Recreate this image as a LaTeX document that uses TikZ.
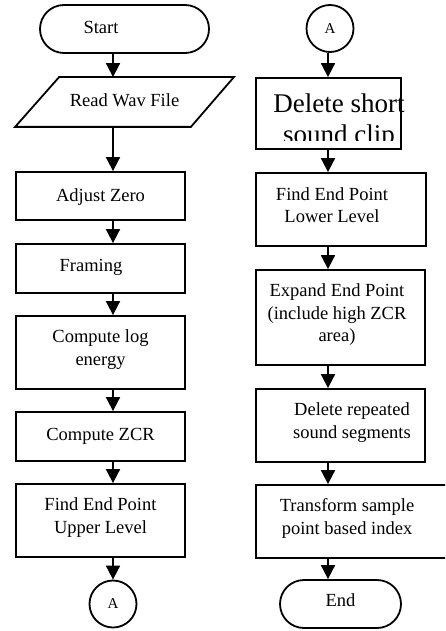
\documentclass[tikz,border=0pt]{standalone}
\usepackage{fontspec}
\setmainfont{Liberation Serif}
\usetikzlibrary{arrows.meta,shapes.misc}
\newcommand\fsnorm{\fontsize{18.5}{22.5}\selectfont}
\newcommand\fssmall{\fontsize{15}{18}\selectfont}
\newcommand\fsbig{\fontsize{27}{31}\selectfont}
\begin{document}
\begin{tikzpicture}[x=1pt,y=-1pt,
  shp/.style={draw, line width=1.8pt, inner sep=0pt},
  box/.style={shp, rectangle},
  term/.style={shp, rounded rectangle, minimum height=48pt},
  conn/.style={shp, circle, minimum size=47pt, font=\fssmall},
  txt/.style={inner sep=0pt, align=center, font=\fsnorm},
  arr/.style={line width=1.8pt, -{Triangle[width=14pt,length=14pt]}},
]
\useasboundingbox (0,0) rectangle (445,631);
\clip (0,0) rectangle (445,631);
\coordinate (axL) at (113,0);
\coordinate (axR) at (328,0);

% ---------- left column ----------
\node[term, minimum width=169pt,
  label={[txt, xshift=-23.5pt, yshift=1.8pt]center:Start}] (start) at (124.5,29) {};
\node[shp, draw=none, minimum width=217pt, minimum height=48pt,
  label={[txt, yshift=2pt]center:Read Wav File}] (read) at (124.5,102) {};
\draw[line width=1.8pt, line join=miter]
  ([xshift=44pt]read.north west) -- (read.north east)
  -- ([xshift=-43pt]read.south east) -- (read.south west) -- cycle;
\node[box, minimum width=169pt, minimum height=48pt,
  label={[txt, yshift=-1.4pt]center:Adjust Zero}] (adj) at (100.5,196) {};
\node[box, minimum width=169pt, minimum height=49pt,
  label={[txt, xshift=-9.5pt, yshift=1pt]center:Framing}] (fram) at (100.5,268.5) {};
\node[box, minimum width=169pt, minimum height=73pt,
  label={[txt, yshift=2.8pt]center:{Compute log\\energy}}] (loge) at (100.5,352.5) {};
\node[box, minimum width=169pt, minimum height=49pt,
  label={[txt]center:Compute ZCR}] (zcr) at (100.5,436.5) {};
\node[box, minimum width=169pt, minimum height=73pt,
  label={[txt, yshift=2.8pt]center:{Find End Point\\Upper Level}}] (upper) at (100.5,520.5) {};
\node[conn] (a1) at (113,604) {A};

\draw[arr] (start.south -| axL) -- (read.north -| axL);
\draw[arr] (read.south -| axL) -- (adj.north -| axL);
\draw[arr] (adj.south -| axL) -- (fram.north -| axL);
\draw[arr] (fram.south -| axL) -- (loge.north -| axL);
\draw[arr] (loge.south -| axL) -- (zcr.north -| axL);
\draw[arr] (zcr.south -| axL) -- (upper.north -| axL);
\draw[arr] (upper.south -| axL) -- (a1.north);

% ---------- right column ----------
\node[conn] (a2) at (330,28.5) {A};
\node[box, minimum width=145pt, minimum height=71pt] (dsc) at (328.5,113.5) {};
\begin{scope}
  \clip (256,78) rectangle (430,141);
  \node[inner sep=0pt, align=center, font=\fsbig] (dsctext) at (339,121.3) {Delete short\\sound clip};
\end{scope}
\node[box, minimum width=170pt, minimum height=73pt,
  label={[txt, xshift=-9pt, yshift=4.3pt]center:{Find End Point\\Lower Level}}] (lower) at (341,209.5) {};
\node[box, minimum width=169pt, minimum height=95pt,
  label={[txt, xshift=-3.5pt, yshift=2.8pt]center:{Expand End Point\\(include high ZCR\\area)}}] (expand) at (340.5,317.5) {};
\node[box, minimum width=169pt, minimum height=73pt,
  label={[txt, xshift=11.5pt, yshift=2.8pt]center:{Delete repeated\\sound segments}}] (rep) at (340.5,425.5) {};
\node[box, minimum width=204pt, minimum height=73pt,
  label={[txt, xshift=-11pt, yshift=2.8pt]center:{Transform sample\\point based index}}] (trans) at (358,521.5) {};
\node[term, minimum width=121pt,
  label={[txt, yshift=3.6pt]center:End}] (end) at (340.5,604) {};

\draw[arr] (a2.south -| axR) -- (dsc.north -| axR);
\draw[arr] (dsc.south -| axR) -- (lower.north -| axR);
\draw[arr] (lower.south -| axR) -- (expand.north -| axR);
\draw[arr] (expand.south -| axR) -- (rep.north -| axR);
\draw[arr] (rep.south -| axR) -- (trans.north -| axR);
\draw[arr] (trans.south -| axR) -- (end.north -| axR);
\end{tikzpicture}
\end{document}
